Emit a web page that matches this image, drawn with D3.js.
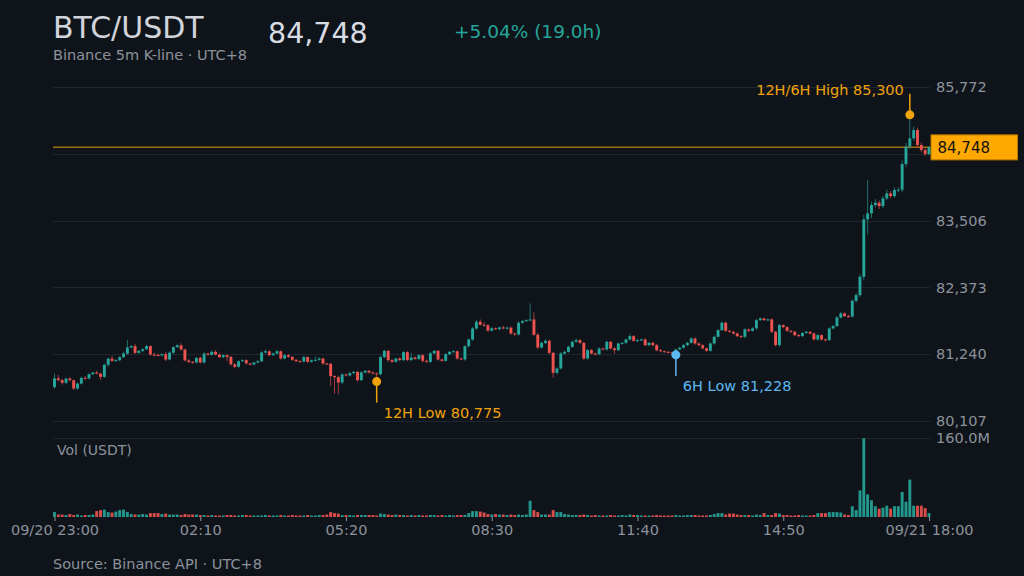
<!DOCTYPE html>
<html>
<head>
<meta charset="utf-8">
<script src="https://cdn.jsdelivr.net/npm/d3@7"></script>
<style>
  html, body { margin: 0; padding: 0; background: #0f141b; }
  svg { display: block; font-family: "DejaVu Sans", sans-serif; }
</style>
</head>
<body>
<svg id="chart" width="1024" height="576"></svg>
<script>
// BTC/USDT 5m candles, 09/20 23:00 -> 09/21 18:00 (229 bars)
const firstOpen = 80682;

const closes = [
  80830,80800,80755,80827,80799,80658,80742,80839,80827,80901,
  80929,80912,80856,81060,81165,81127,81139,81190,81250,81354,
  81377,81263,81297,81325,81377,81235,81226,81220,81240,81150,
  81266,81360,81390,81320,81135,81110,81100,81179,81099,81250,
  81230,81280,81235,81190,81223,81195,81068,81026,81122,81139,
  81084,81065,81100,81122,81269,81290,81224,81252,81290,81167,
  81223,81195,81145,81122,81115,81190,81111,81135,81145,81167,
  81082,81076,80870,80850,80760,80896,80880,80920,80940,80800,
  80930,80958,80930,80915,80900,81190,81297,81139,81111,81167,
  81140,81275,81140,81184,81160,81224,81128,81110,81255,81297,
  81150,81128,81240,81280,81290,81167,81150,81376,81490,81676,
  81790,81740,81730,81640,81680,81665,81694,81680,81690,81592,
  81575,81773,81801,81818,81829,81570,81354,81433,81467,81263,
  80924,80998,81252,81280,81365,81450,81478,81433,81167,81309,
  81252,81240,81337,81320,81450,81337,81309,81422,81433,81490,
  81546,81467,81478,81490,81393,81433,81393,81308,81290,81280,
  81269,81252,81320,81350,81393,81433,81506,81422,81393,81340,
  81298,81422,81535,81648,81773,81637,81620,81592,81547,81535,
  81660,81637,81677,81818,81846,81818,81830,81620,81394,81733,
  81700,81637,81620,81563,81547,81600,81620,81592,81490,81563,
  81490,81480,81677,81716,81863,81931,81886,81880,82146,82242,
  82553,83526,83628,83770,83809,83753,83883,83968,83922,84024,
  84030,84465,84760,84901,85042,84788,84703,84635,84748
];

// wick length above / below the body (USDT)
const wickHi = [
  80,60,20,15,25,10,15,20,30,15, 10,30,10,20,15,45,20,15,25,130,
  20,40,15,20,25,15,30,20,15,40, 20,15,20,35,15,20,15,15,20,25,
  15,20,30,15,15,10,15,20,15,15, 15,10,10,15,20,30,15,15,20,10,
  15,20,10,15,15,20,15,15,60,20, 15,10,15,15,20,20,15,20,15,15,
  20,15,15,20,15,25,20,15,20,15, 20,15,15,70,20,15,15,20,20,15,
  15,15,20,15,20,15,20,15,20,25, 30,40,45,20,20,15,15,25,20,20,
  15,25,20,15,272,120,30,20,25,20, 15,20,25,20,20,20,30,20,15,20,
  20,15,20,15,20,15,20,15,20,15, 40,20,15,15,20,15,15,20,15,15,
  15,15,15,15,20,15,25,20,15,15, 10,20,20,15,25,20,15,15,15,15,
  20,15,20,20,20,15,15,20,15,20, 15,15,15,15,20,15,15,15,15,20,
  15,15,20,20,25,30,20,20,25,30, 40,80,566,60,60,40,40,60,40,45,
  40,60,60,399,60,40,40,30,20
];
const wickLo = [
  30,20,30,20,20,25,20,15,20,15, 15,15,50,15,30,20,15,20,15,20,
  15,20,15,20,15,20,25,15,20,25, 15,20,15,15,20,25,20,20,15,20,
  15,15,15,20,15,75,20,25,15,15, 20,15,15,15,20,15,20,15,15,20,
  15,15,20,15,20,15,20,15,15,15, 20,15,170,280,200,30,20,15,20,25,
  20,15,15,20,125,20,15,30,20,15, 20,25,15,20,15,20,25,15,20,15,
  20,15,20,15,15,20,15,20,20,25, 20,15,20,25,15,15,20,15,20,25,
  30,20,15,15,20,20,30,20,20,25, 80,25,20,20,15,20,15,20,30,20,
  15,20,15,20,20,15,60,15,20,20, 20,15,20,15,20,15,20,20,15,15,
  15,15,24,15,15,20,15,20,15,20, 15,15,20,15,15,20,15,20,20,25,
  20,20,15,20,15,15,15,20,20,25, 20,15,20,15,20,15,15,20,15,20,
  20,20,15,20,15,20,15,20,20,30, 30,60,250,80,40,50,40,30,40,30,
  40,40,50,40,40,40,40,30,20
];

// volume per bar, million USDT
const volumes = [
  10,5,5,4,6,4,5,3,4,4, 5,12,14,15,10,9,11,14,15,10,
  6,5,5,6,5,8,8,8,6,7, 5,5,5,4,6,5,5,5,4,4,
  3,4,3,3,3,4,4,3,3,4, 4,3,3,3,3,4,3,3,3,4,
  3,3,4,3,3,3,4,3,3,4, 4,5,10,8,7,4,4,4,3,4,
  4,4,4,4,3,7,6,5,4,5, 4,4,3,4,3,4,3,3,4,4,
  3,4,3,4,3,4,4,4,8,12, 12,11,9,6,5,6,5,5,4,5,
  4,5,4,5,33,14,10,5,5,5, 14,10,10,6,5,4,4,4,5,4,
  3,4,3,3,3,4,3,3,4,3, 5,4,4,3,3,3,3,4,3,3,
  3,3,4,3,3,4,4,4,3,3, 3,4,6,8,8,5,7,7,5,4,
  4,4,3,5,4,8,4,4,8,7, 4,4,3,3,4,3,3,3,4,8,
  8,8,10,10,10,9,5,4,22,14, 54,160,46,34,22,17,19,23,17,22,
  22,51,31,76,23,23,23,18,8
];

const priceTicks = [80107, 81240, 82373, 83506, 84639, 85772];
const volTicks = [160];
const timeTickIdx = [0, 38, 76, 114, 152, 190, 228];
const timeTickLabels = ["09/20 23:00", "02:10", "05:20", "08:30", "11:40", "14:50", "09/21 18:00"];

const up = "#26a69a", down = "#ef5350", orange = "#f0a30a", blue = "#5cb8f0";
const grid = "#1f2630", muted = "#8c929b";

const candles = closes.map((c, i) => {
  const o = i === 0 ? firstOpen : closes[i - 1];
  return { i, o, c, h: Math.max(o, c) + wickHi[i], l: Math.min(o, c) - wickLo[i], v: volumes[i] };
});

const svg = d3.select("#chart");
svg.append("rect").attr("width", 1024).attr("height", 576).attr("fill", "#0f141b");

const x = d3.scaleLinear().domain([0, candles.length - 1]).range([54.5, 929]);
const y = d3.scaleLinear().domain([80107, 85772]).range([421, 87]);
const yv = d3.scaleLinear().domain([0, 160]).range([517, 438.3]);
const fmt = d3.format(",");
const left = 53, right = 930;

// header
svg.append("text").attr("x", 53).attr("y", 38).attr("fill", "#d1d4dc")
  .style("font-size", "30px").text("BTC/USDT");
const last = candles[candles.length - 1];
svg.append("text").attr("x", 268).attr("y", 43).attr("fill", "#d8dce3")
  .style("font-size", "28.5px").text(fmt(last.c));
const pct = (last.c / candles[0].o - 1) * 100;
svg.append("text").attr("x", 454).attr("y", 38).attr("fill", up)
  .style("font-size", "18.5px").text(`+${pct.toFixed(2)}% (19.0h)`);
svg.append("text").attr("x", 53).attr("y", 60).attr("fill", muted)
  .style("font-size", "14.5px").text("Binance 5m K-line · UTC+8");

// grid lines
svg.append("g").selectAll("line").data(priceTicks).join("line")
  .attr("x1", left).attr("x2", right)
  .attr("y1", d => Math.round(y(d)) + 0.5).attr("y2", d => Math.round(y(d)) + 0.5)
  .attr("stroke", grid);
svg.append("g").selectAll("line").data(volTicks).join("line")
  .attr("x1", left).attr("x2", right)
  .attr("y1", d => Math.round(yv(d)) + 0.5).attr("y2", d => Math.round(yv(d)) + 0.5)
  .attr("stroke", grid);

// price axis on the right, skip the label hidden by the last-price tag
const yLast = y(last.c);
svg.append("g").attr("transform", `translate(${right},0)`)
  .call(d3.axisRight(y).tickValues(priceTicks.filter(d => Math.abs(y(d) - yLast) > 14))
    .tickFormat(fmt).tickSize(0).tickPadding(6))
  .call(g => g.select(".domain").remove())
  .call(g => g.selectAll("text").attr("fill", muted).style("font-size", "14.5px")
    .style("font-family", "DejaVu Sans"));

svg.append("g").attr("transform", `translate(${right},0)`)
  .call(d3.axisRight(yv).tickValues(volTicks).tickFormat(d => d.toFixed(1) + "M")
    .tickSize(0).tickPadding(6))
  .call(g => g.select(".domain").remove())
  .call(g => g.selectAll("text").attr("fill", muted).style("font-size", "14.5px")
    .style("font-family", "DejaVu Sans"));

svg.append("text").attr("x", 57).attr("y", 455).attr("fill", muted)
  .style("font-size", "14px").text("Vol (USDT)");

// time axis
svg.append("g").attr("transform", "translate(0,517)")
  .call(d3.axisBottom(x).tickValues(timeTickIdx).tickFormat((d, i) => timeTickLabels[i])
    .tickSize(4).tickPadding(4))
  .call(g => g.select(".domain").remove())
  .call(g => g.selectAll("line").attr("stroke", muted))
  .call(g => g.selectAll("text").attr("fill", muted).style("font-size", "14.5px")
    .style("font-family", "DejaVu Sans"));

// volume bars
const bw = 2.9;
svg.append("g").selectAll("rect").data(candles).join("rect")
  .attr("x", d => x(d.i) - bw / 2).attr("width", bw)
  .attr("y", d => yv(d.v)).attr("height", d => yv(0) - yv(d.v))
  .attr("fill", d => d.c >= d.o ? up : down).attr("opacity", 0.9);

// last price line
svg.append("line").attr("x1", left).attr("x2", right)
  .attr("y1", yLast).attr("y2", yLast).attr("stroke", "#9a6e12").attr("stroke-width", 1.5);

// candles
const cg = svg.append("g").selectAll("g").data(candles).join("g");
cg.append("line")
  .attr("x1", d => x(d.i)).attr("x2", d => x(d.i))
  .attr("y1", d => y(d.h)).attr("y2", d => y(d.l))
  .attr("stroke", d => d.c >= d.o ? up : down).attr("stroke-opacity", 0.65);
cg.append("rect")
  .attr("x", d => x(d.i) - bw / 2).attr("width", bw)
  .attr("y", d => y(Math.max(d.o, d.c)))
  .attr("height", d => Math.max(1, Math.abs(y(d.o) - y(d.c))))
  .attr("fill", d => d.c >= d.o ? up : down);

// last price tag
svg.append("rect").attr("x", 931).attr("y", yLast - 12.5).attr("width", 86.5).attr("height", 25)
  .attr("fill", "#ffa800").attr("stroke", "#b87800").attr("stroke-width", 1);
svg.append("text").attr("x", 937.5).attr("y", yLast + 5.5).attr("fill", "#111")
  .style("font-size", "15px").text(fmt(last.c));

// high / low markers
const win12 = candles.filter(d => d.i >= candles.length - 1 - 144);
const win6 = candles.filter(d => d.i >= candles.length - 1 - 72);
const hi = d3.greatest(win12, d => d.h);
const lo12 = d3.least(win12, d => d.l);
const lo6 = d3.least(win6, d => d.l);

function marker(d, val, color, label, above) {
  const cx = x(d.i), cy = y(val);
  const g = svg.append("g");
  g.append("line").attr("x1", cx).attr("x2", cx).attr("y1", cy)
    .attr("y2", above ? cy - 21 : cy + 21).attr("stroke", color).attr("stroke-width", 1.5);
  g.append("circle").attr("cx", cx).attr("cy", cy).attr("r", 4.5).attr("fill", color);
  g.append("text")
    .attr("x", above ? cx - 6 : cx + 7).attr("y", above ? cy - 20 : cy + 36)
    .attr("text-anchor", above ? "end" : "start")
    .attr("fill", color).style("font-size", "14.5px").text(label);
}
marker(hi, hi.h, orange, `12H/6H High ${fmt(hi.h)}`, true);
marker(lo12, lo12.l, orange, `12H Low ${fmt(lo12.l)}`, false);
marker(lo6, lo6.l, blue, `6H Low ${fmt(lo6.l)}`, false);

// footer
svg.append("text").attr("x", 53).attr("y", 569).attr("fill", muted)
  .style("font-size", "14.5px").text("Source: Binance API · UTC+8");
</script>
</body>
</html>
